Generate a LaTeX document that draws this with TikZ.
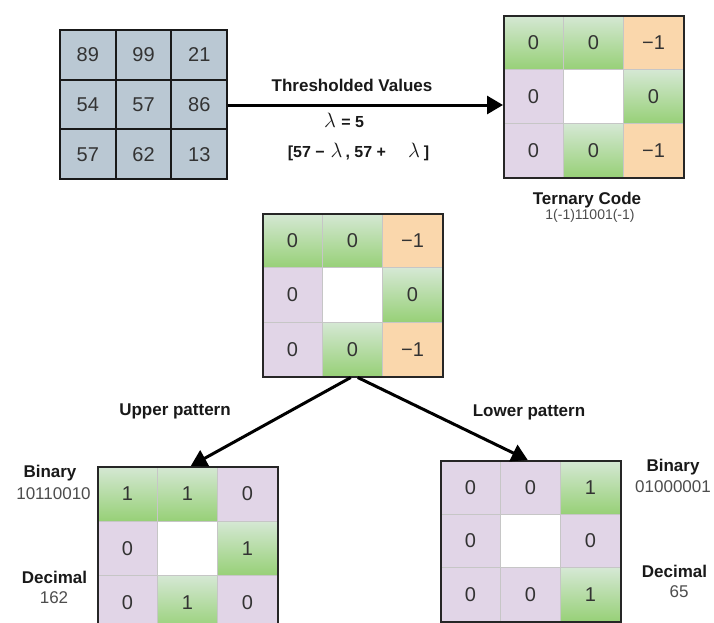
\documentclass[tikz,border=0pt]{standalone}
\usepackage{fontspec}
\setmainfont{Liberation Sans}
\usetikzlibrary{arrows.meta}
\definecolor{inblue}{HTML}{BAC8D3}
\definecolor{grtop}{HTML}{D5E8D4}
\definecolor{grbot}{HTML}{97D077}
\definecolor{orng}{HTML}{FAD7AC}
\definecolor{purp}{HTML}{E1D5E7}
\definecolor{txtgray}{HTML}{333333}
\definecolor{lblgray}{HTML}{4D4D4D}
\tikzset{
  cellbase/.style={anchor=north west, inner sep=0pt, font=\fontsize{20}{24}\selectfont, text=txtgray},
  incell/.style={cellbase, fill=inblue, draw=black!90, line width=2pt, minimum width=55.7pt, minimum height=49.7pt},
  tcell/.style={cellbase, draw=gray!45, line width=1pt, minimum width=60pt, minimum height=54pt},
  grn/.style={top color=grtop, bottom color=grbot},
  org/.style={fill=orng},
  pur/.style={fill=purp},
  wht/.style={fill=white},
  frame/.style={anchor=north west, draw=black!85, line width=1.5pt, inner sep=0pt, fill=none},
  conn/.style={line width=3pt, -{Triangle[length=16pt,width=18pt]}},
  boldlbl/.style={font=\bfseries\fontsize{17}{20}\selectfont, text=black!90, inner sep=0pt},
  reglbl/.style={font=\fontsize{17}{20}\selectfont, text=lblgray, inner sep=0pt},
  smalllbl/.style={font=\fontsize{14}{17}\selectfont, text=lblgray, inner sep=0pt},
  mathlbl/.style={font=\bfseries\fontsize{16}{19}\selectfont, text=black!90, inner sep=0pt},
}
\newcommand{\lamA}{{\fontsize{20}{20}\selectfont$\lambda$}}
\newcommand{\lamB}{{\fontsize{22}{22}\selectfont$\lambda$}}
\begin{document}
\begin{tikzpicture}[x=1pt,y=-1pt]
\clip (0,0) rectangle (714,622);
\fill[white] (0,0) rectangle (714,622);

% input grid
\foreach \tx [count=\i from 0] in {89,99,21,54,57,86,57,62,13}{
  \pgfmathtruncatemacro\cc{mod(\i,3)}
  \pgfmathtruncatemacro\rr{int(\i/3)}
  \node[incell] (in\i) at (59+\cc*55.7, 29+\rr*49.7) {\tx};
}
\node[frame, draw=black!90, line width=2pt, minimum width=167pt, minimum height=149pt] (inp) at (59,29) {};

% ternary grid
\foreach \st/\tx [count=\i from 0] in {grn/0, grn/0, org/−1, pur/0, wht/{}, grn/0, pur/0, grn/0, org/−1}{
  \pgfmathtruncatemacro\cc{mod(\i,3)}
  \pgfmathtruncatemacro\rr{int(\i/3)}
  \node[tcell,\st] (t\i) at (503+\cc*60, 15+\rr*54) {\tx};
}
\node[frame, minimum width=180pt, minimum height=162pt] (tern) at (503,15) {};

% middle grid
\foreach \st/\tx [count=\i from 0] in {grn/0, grn/0, org/−1, pur/0, wht/{}, grn/0, pur/0, grn/0, org/−1}{
  \pgfmathtruncatemacro\cc{mod(\i,3)}
  \pgfmathtruncatemacro\rr{int(\i/3)}
  \node[tcell,\st, minimum height=54.3pt] (m\i) at (262+\cc*60, 213+\rr*54.3) {\tx};
}
\node[frame, minimum width=180pt, minimum height=163pt] (mid) at (262,213) {};

% bottom-left grid (upper pattern)
\foreach \st/\tx [count=\i from 0] in {grn/1, grn/1, pur/0, pur/0, wht/{}, grn/1, pur/0, grn/1, pur/0}{
  \pgfmathtruncatemacro\cc{mod(\i,3)}
  \pgfmathtruncatemacro\rr{int(\i/3)}
  \node[tcell,\st, minimum height=54.5pt] (u\i) at (97+\cc*60, 466+\rr*54.5) {\tx};
}
\node[frame, minimum width=180pt, minimum height=163.5pt] (bl) at (97,466) {};

% bottom-right grid (lower pattern)
\foreach \st/\tx [count=\i from 0] in {pur/0, pur/0, grn/1, pur/0, wht/{}, pur/0, pur/0, pur/0, grn/1}{
  \pgfmathtruncatemacro\cc{mod(\i,3)}
  \pgfmathtruncatemacro\rr{int(\i/3)}
  \node[tcell,\st, minimum height=53.7pt] (l\i) at (440+\cc*60, 460+\rr*53.7) {\tx};
}
\node[frame, minimum width=180pt, minimum height=161pt] (br) at (440,460) {};

% connectors
\draw[conn] ([yshift=-0.5pt]inp.east) -- ([yshift=-0.5pt]inp.east -| tern.west);
\draw[conn] ([xshift=-2pt]mid.south) -- ([xshift=3pt]bl.north);
\draw[conn] ([xshift=5pt]mid.south) -- ([xshift=-3pt]br.north);

% labels
\node[boldlbl] (thr) at (352,85) {Thresholded Values};
\node[mathlbl] (lam) at (344,120) {\lamA\hspace{1pt} = 5};
\node[mathlbl] (rng) at (358.5,152) {[57 −\hspace{6pt}\lamB\hspace{3pt}, 57 +\hspace{22pt}\lamB\hspace{4pt}]};
\node[boldlbl] (tcl) at (587,200) {Ternary Code};
\node[smalllbl] (tcv) at (590,216) {1(-1)11001(-1)};
\node[boldlbl] (upl) at (175,411) {Upper pattern};
\node[boldlbl] (lol) at (529,412) {Lower pattern};
\node[boldlbl] (bb1) at (50,473) {Binary};
\node[reglbl] (bv1) at (53.5,494) {10110010};
\node[boldlbl] (dd1) at (54.5,577) {Decimal};
\node[reglbl] (dv1) at (54,598) {162};
\node[boldlbl] (bb2) at (673,467) {Binary};
\node[reglbl] (bv2) at (673,487) {01000001};
\node[boldlbl] (dd2) at (674.5,571) {Decimal};
\node[reglbl] (dv2) at (679,592) {65};
\end{tikzpicture}
\end{document}
